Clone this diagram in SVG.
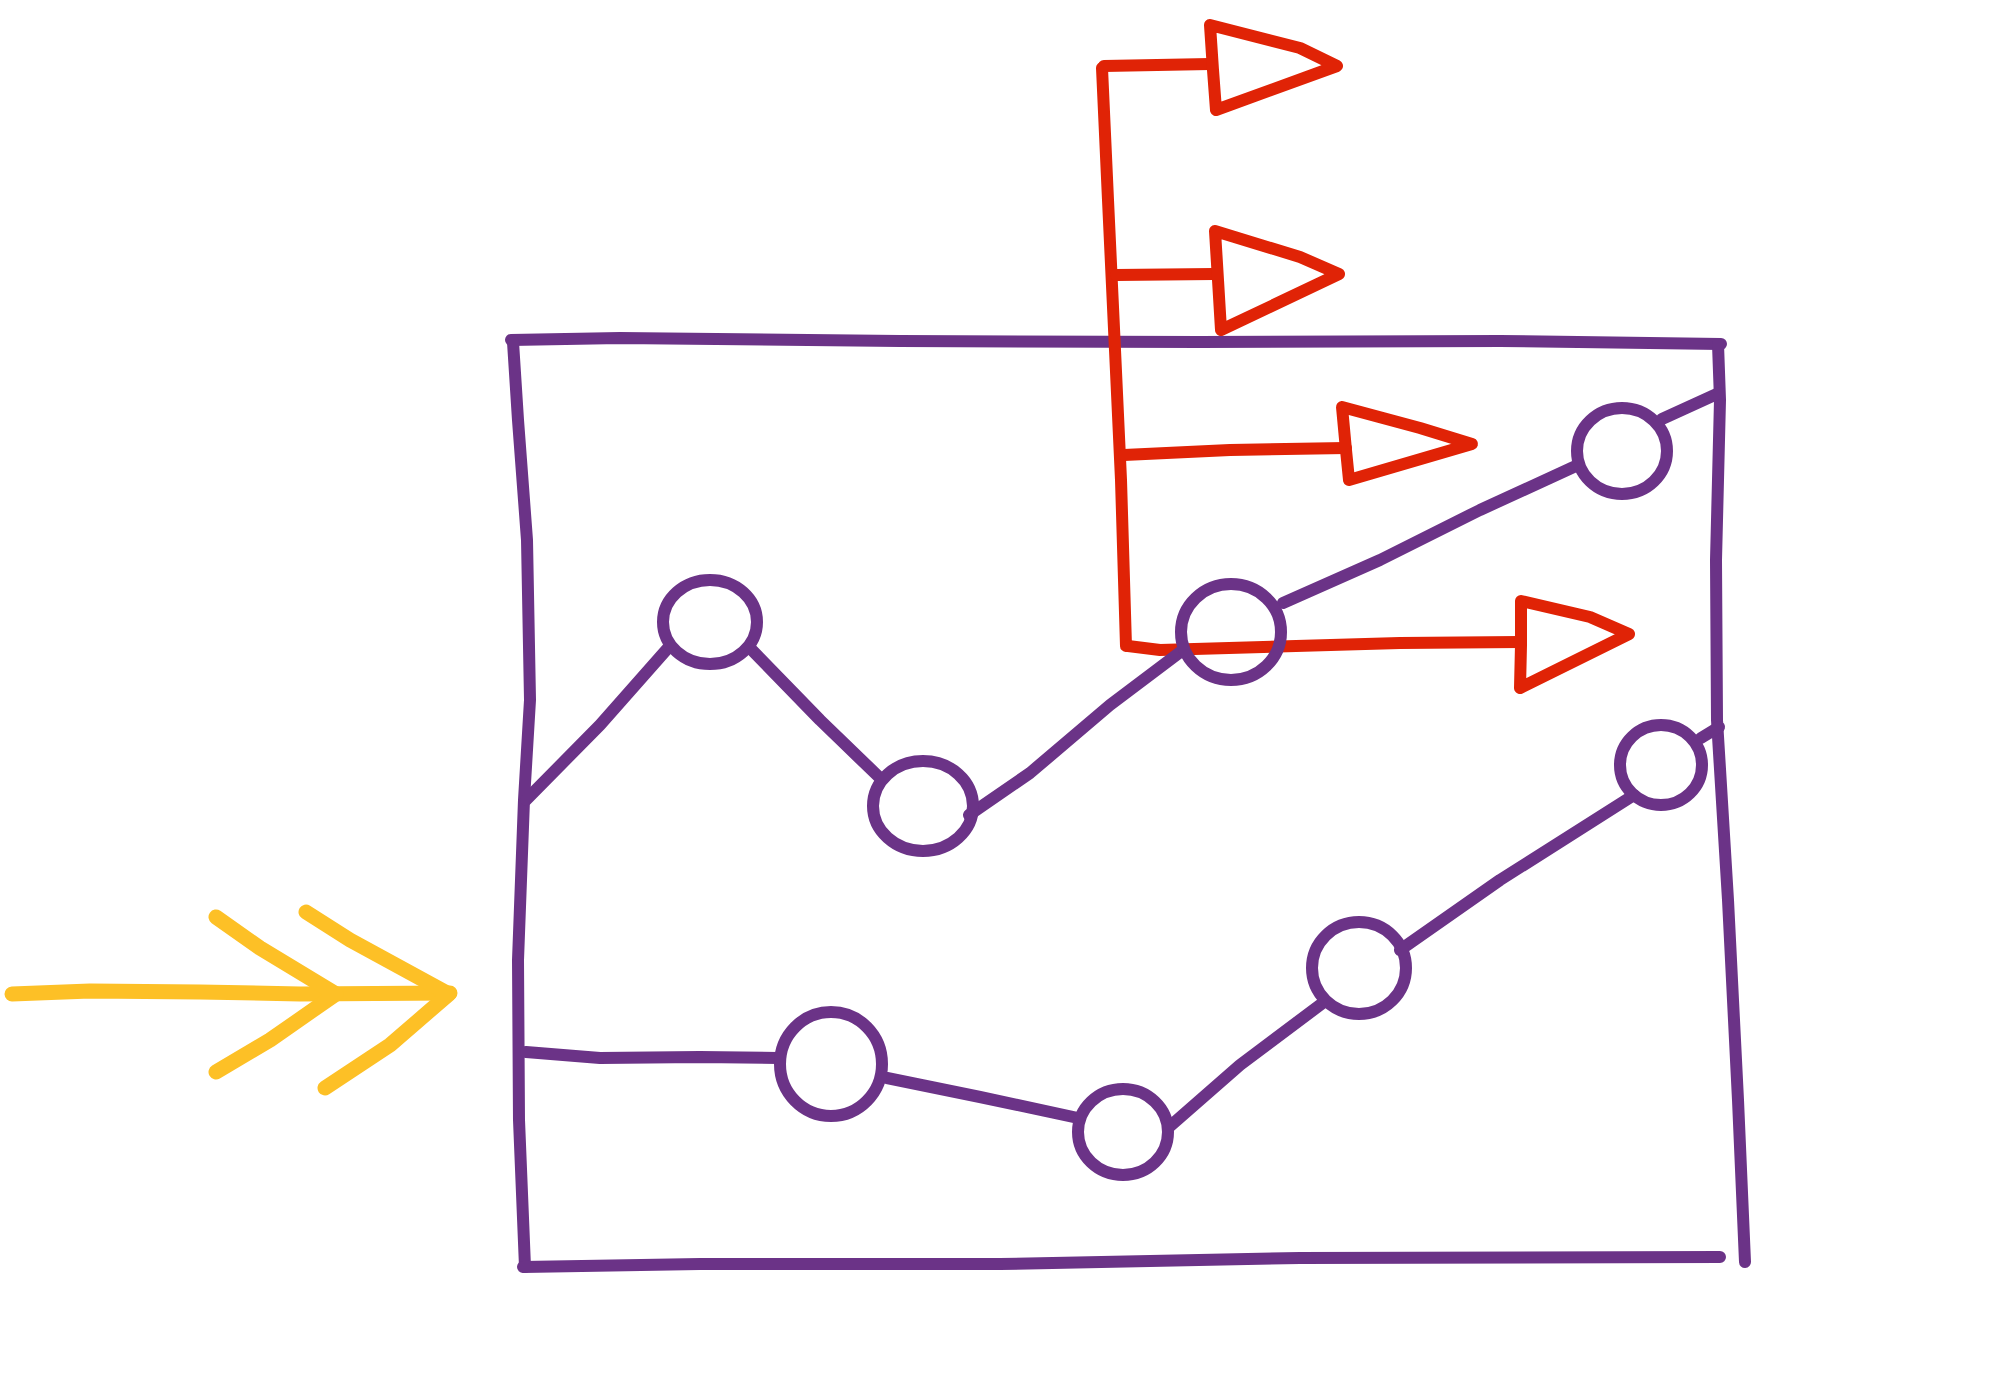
<svg xmlns="http://www.w3.org/2000/svg" width="2000" height="1400" viewBox="0 0 2000 1400">
<style>
.p{fill:none;stroke:#6b3387;stroke-width:12;stroke-linecap:round;stroke-linejoin:round}
.r{fill:none;stroke:#e02306;stroke-width:12;stroke-linecap:round;stroke-linejoin:round}
.y{fill:none;stroke:#fdc026;stroke-width:15;stroke-linecap:round;stroke-linejoin:round}
.n{fill:none;stroke:#6b3387;stroke-width:12}
</style>
<rect width="2000" height="1400" fill="#ffffff"/>
<g id="frame">
<path class="p" d="M511,340 L620,338 L900,341 L1200,342 L1500,341 L1721,344"/>
<path class="p" d="M513,342 L518,420 L527,540 L530,700 L524,800 L518,960 L519,1120 L525,1267"/>
<path class="p" d="M1718,344 L1720,400 L1716,560 L1717,720 L1728,900 L1738,1100 L1745,1262"/>
<path class="p" d="M523,1267 L700,1264 L1000,1264 L1300,1258 L1720,1257"/>
</g>
<g id="flags">
<path class="r" d="M1102,68 L1108,200 L1115,350 L1121,480 L1126,646"/>
<path class="r" d="M1104,66 L1210,64"/>
<path class="r" d="M1116,275 L1214,274"/>
<path class="r" d="M1124,455 L1230,450 L1346,448"/>
<path class="r" d="M1128,646 L1160,650 L1400,643 L1520,642"/>
<polygon class="r" points="1210,25 1300,48 1337,66 1216,110 1213,70"/>
<polygon class="r" points="1215,231 1300,257 1339,274 1221,330 1218,280"/>
<polygon class="r" points="1342,407 1420,428 1472,444 1349,480 1346,450"/>
<polygon class="r" points="1521,601 1590,617 1629,634 1520,688 1521,645"/>
</g>
<g id="input-arrow">
<path class="y" d="M12,994 L90,991 L200,992 L300,994 L450,993"/>
<path class="y" d="M216,917 L260,948 L336,994 L270,1040 L216,1072"/>
<path class="y" d="M306,912 L350,940 L449,994 L390,1045 L325,1088"/>
</g>
<g id="connectors">
<path class="p" d="M526,800 L600,725 L668,648"/>
<path class="p" d="M750,648 L820,720 L880,778"/>
<path class="p" d="M969,815 L1030,773 L1110,705 L1183,650"/>
<path class="p" d="M1283,603 L1380,560 L1480,510 L1578,465"/>
<path class="p" d="M1662,419 L1719,393"/>
<path class="p" d="M526,1052 L600,1058 L700,1057 L778,1058"/>
<path class="p" d="M887,1078 L980,1097 L1078,1118"/>
<path class="p" d="M1168,1128 L1240,1065 L1324,1002"/>
<path class="p" d="M1400,950 L1500,880 L1634,795"/>
<path class="p" d="M1701,738 L1719,727"/>
</g>
<g id="n1"><ellipse class="n" cx="710" cy="622" rx="47" ry="42"/></g>
<g id="n2"><ellipse class="n" cx="923" cy="806" rx="50" ry="45"/></g>
<g id="n3"><ellipse class="n" cx="1231" cy="632" rx="50" ry="48"/></g>
<g id="n4"><ellipse class="n" cx="1622" cy="451" rx="45" ry="43"/></g>
<g id="m1"><ellipse class="n" cx="831" cy="1064" rx="51" ry="52"/></g>
<g id="m2"><ellipse class="n" cx="1123" cy="1132" rx="45" ry="43"/></g>
<g id="m3"><ellipse class="n" cx="1359" cy="968" rx="47" ry="46"/></g>
<g id="m4"><ellipse class="n" cx="1661" cy="765" rx="41" ry="40"/></g>
</svg>
